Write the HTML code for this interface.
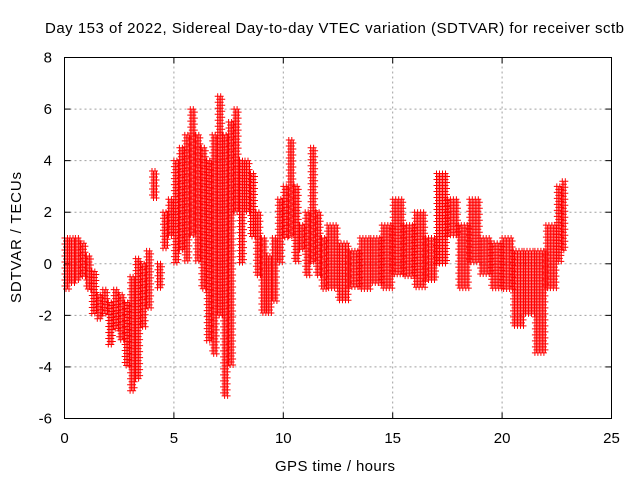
<!DOCTYPE html>
<html><head><meta charset="utf-8"><style>
body{margin:0;background:#fff;}
svg{display:block;font-family:"Liberation Sans",sans-serif;}
</style></head><body>
<svg id="chart" width="640" height="480" viewBox="0 0 640 480">
<rect x="0" y="0" width="640" height="480" fill="#fff"/>
<text x="45" y="33" font-size="15" textLength="579" lengthAdjust="spacing" fill="#000">Day 153 of 2022, Sidereal Day-to-day VTEC variation (SDTVAR) for receiver sctb</text>
<g id="grid"></g>
<g id="ticks"></g>
<g id="points"></g>
<rect x="64.5" y="57.5" width="547" height="361" fill="none" stroke="#000" stroke-width="1"/>
<text x="275" y="471" font-size="15" textLength="120" lengthAdjust="spacing">GPS time / hours</text>
<text transform="translate(21,303) rotate(-90)" font-size="15" textLength="131" lengthAdjust="spacing">SDTVAR / TECUs</text>
</svg>
<script>
const xTicks=[0,5,10,15,20,25];
const yTicks=[-6,-4,-2,0,2,4,6,8];
const times=[0,0.25,0.5,0.75,1.0,1.25,1.5,1.75,2.0,2.25,2.5,2.75,3.0,3.25,3.5,3.75,4.0,4.25,4.5,4.75,5.0,5.25,5.5,5.75,6.0,6.25,6.5,6.75,7.0,7.25,7.5,7.75,8.0,8.25,8.5,8.75,9.0,9.25,9.5,9.75,10.0,10.25,10.5,10.75,11.0,11.25,11.5,11.75,12.0,12.5,13.0,13.5,14.0,14.5,15.0,15.5,16.0,16.5,17.0,17.5,18.0,18.5,19.0,19.5,20.0,20.5,21.0,21.5,22.0,22.5,22.75];
const lows=[-1,-0.8,-0.7,-0.5,-1,-2,-2.2,-2,-3.2,-2.6,-3,-4,-5,-4.5,-2.5,-1.8,2.5,-1,0.5,1,0,0.5,0,1,0,-1,-3,-3.5,-2,-5.2,-4,2,0,2,1,-0.5,-2,-2,-1.5,0,1,1,0,0.5,-0.5,0,-0.5,-1,-1,-1.5,-1,-1,-0.8,-1,-0.5,-0.5,-1,-0.7,0,1,-1,0,-0.5,-1,-1,-2.5,-2,-3.5,-1,0,0.5];
const highs=[1,1,1,0.8,0.3,-0.3,-1.2,-1,-1.5,-1,-1.2,-1.5,-0.5,0.2,0,0.5,3.6,0,2,2.5,4,4.5,5,6,5,4.5,4,5,6.5,5,5.5,6,4,4,3.5,2,1,0.3,1,2.5,3,4.8,3,1.5,2,4.5,2,1,1.5,0.8,0.5,1,1,1.5,2.5,1.5,2,1,3.5,2.5,1.5,2.5,1,0.8,1,0.5,0.5,0.5,1.5,3,3.2];
const X0=64.5,X1=611.5,Y0=418.5,Y1=57.5;
const xs=v=>X0+(v-0)/(25-0)*(X1-X0);
const ys=v=>Y0-(v+6)/(8+6)*(Y0-Y1);
const NS="http://www.w3.org/2000/svg";
const grid=document.getElementById('grid'),ticks=document.getElementById('ticks'),pts=document.getElementById('points');
function mk(tag,attrs,parent){const e=document.createElementNS(NS,tag);for(const k in attrs)e.setAttribute(k,attrs[k]);parent.appendChild(e);return e;}
xTicks.forEach(t=>{
  const x=xs(t);
  if(t>0&&t<25){const g=mk('line',{x1:x,x2:x,y1:Y0,y2:Y1,stroke:'#a0a0a0','stroke-dasharray':'2,3'},grid);
  
  }
  mk('line',{x1:x,x2:x,y1:Y0,y2:Y0-6,stroke:'#000'},ticks);
  mk('line',{x1:x,x2:x,y1:Y1,y2:Y1+6,stroke:'#000'},ticks);
  const l=mk('text',{x:x,y:443,'font-size':15,'text-anchor':'middle'},ticks);l.textContent=t;
  
  
});
yTicks.forEach(t=>{
  const y=ys(t);
  if(t>-6&&t<8){const g=mk('line',{x1:X0,x2:X1,y1:y,y2:y,stroke:'#a0a0a0','stroke-dasharray':'2,3'},grid);
  
  }
  mk('line',{x1:X0,x2:X0+6,y1:y,y2:y,stroke:'#000'},ticks);
  mk('line',{x1:X1,x2:X1-6,y1:y,y2:y,stroke:'#000'},ticks);
  const l=mk('text',{x:52,y:y+5,'font-size':15,'text-anchor':'end'},ticks);l.textContent=t;
  
  
});
let d='';
for(let i=0;i<times.length;i++){
  const xa=xs(times[i]);
  const xb=i<times.length-1?xs(times[i+1]):xa+3;
  const ya=ys(highs[i]),yb=ys(lows[i]);
  let row=0;
  for(let y=ya;y<=yb;y+=3,row++){
    for(let x=xa+(row%2)*1.5;x<=xb;x+=3){
      d+=`M${(x-3).toFixed(1)} ${y.toFixed(1)}h6M${x.toFixed(1)} ${(y-3).toFixed(1)}v6`;
    }
  }
}
const p=mk('path',{d:d,stroke:'#ff0000','stroke-width':1,fill:'none'},pts);


</script>
</body></html>
